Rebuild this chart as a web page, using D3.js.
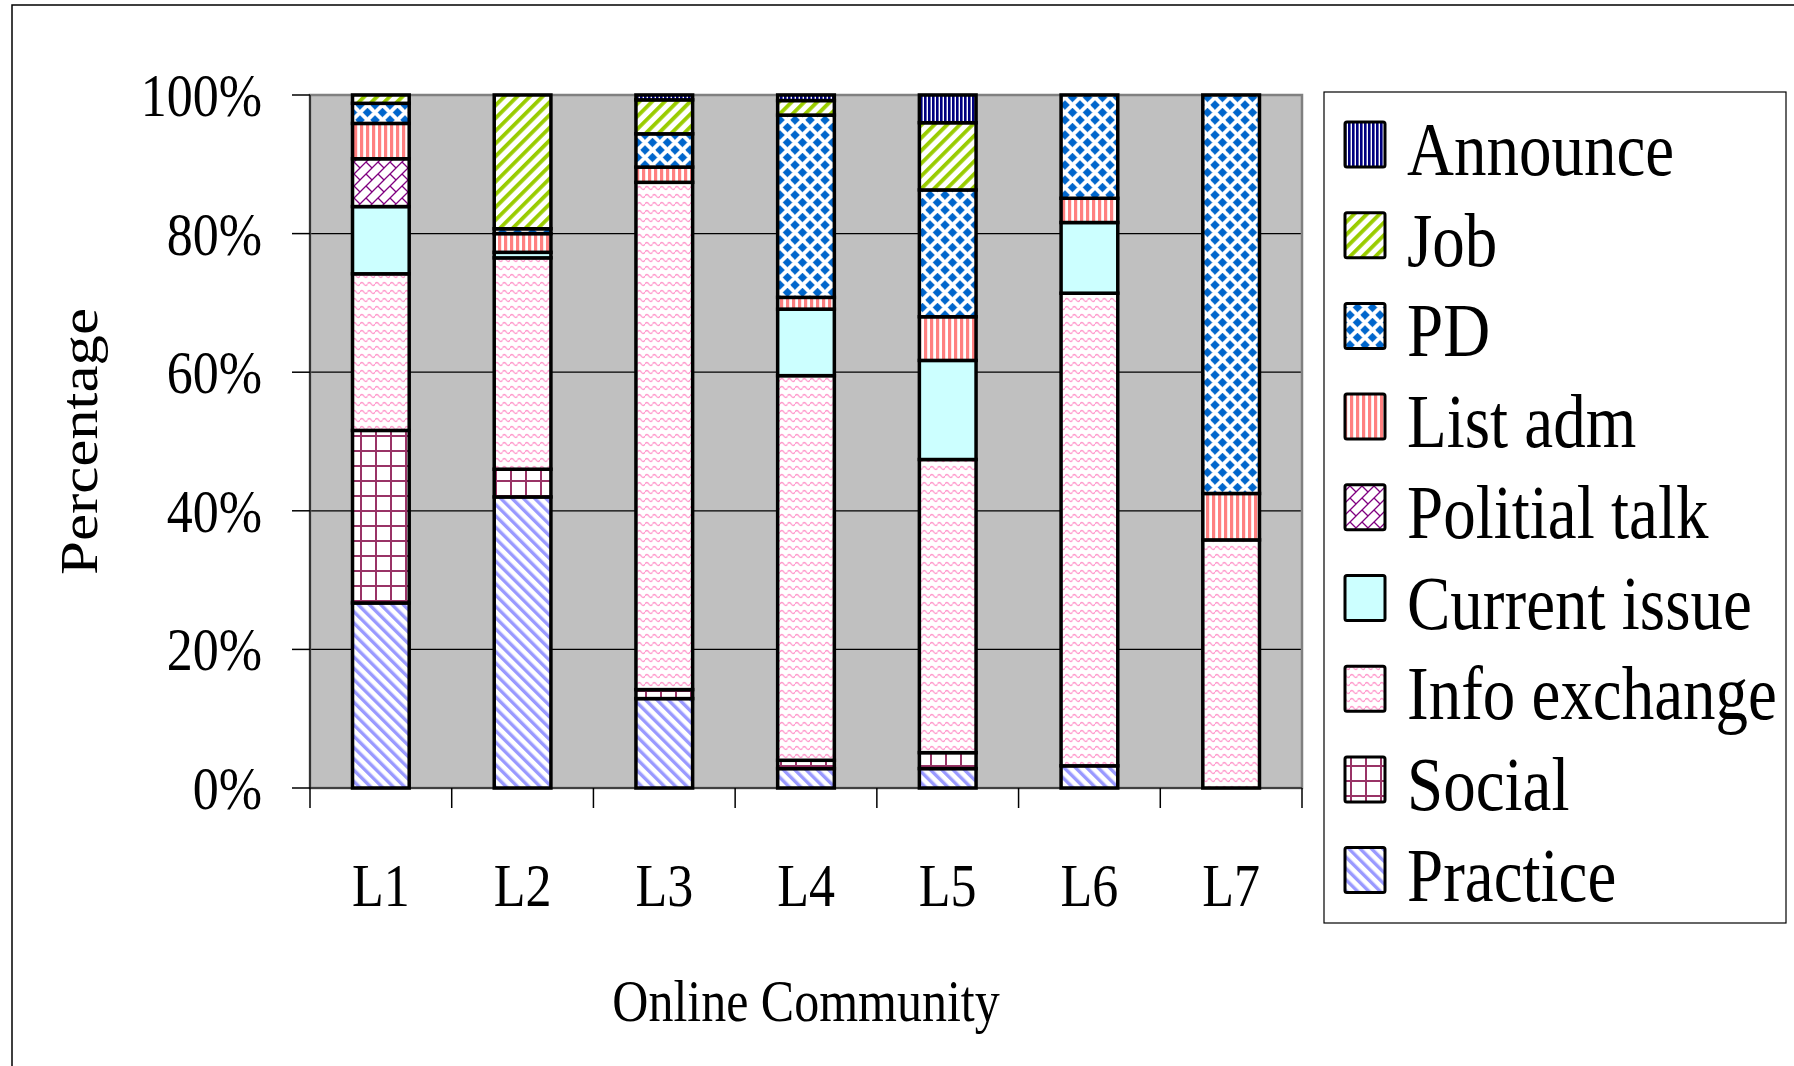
<!DOCTYPE html>
<html>
<head>
<meta charset="utf-8">
<script src="https://cdn.jsdelivr.net/npm/d3@7"></script>
<style>
  body { margin: 0; background: #fff; }
  text { font-family: "Liberation Serif", "Times New Roman", serif; fill: #000; }
</style>
</head>
<body>
<svg id="chart" width="1794" height="1066"></svg>
<script>
// communities on the x axis
const categories = ["L1", "L2", "L3", "L4", "L5", "L6", "L7"];
// stack order, bottom to top
const seriesNames = ["Practice", "Social", "Info exchange", "Current issue", "Politial talk", "List adm", "PD", "Job", "Announce"];

// share of messages (%) per community
const practice     = [26.7, 42.0, 12.9,  2.8,  2.8,  3.2,  0.0];
const social       = [24.9,  4.0,  1.3,  1.2,  2.3,  0.0,  0.0];
const infoExchange = [22.6, 30.5, 73.2, 55.5, 42.3, 68.2, 35.8];
const currentIssue = [ 9.7,  0.8,  0.0,  9.6, 14.3, 10.2,  0.0];
const politialTalk = [ 6.9,  0.0,  0.0,  0.0,  0.0,  0.0,  0.0];
const listAdm      = [ 5.1,  2.7,  2.2,  1.7,  6.3,  3.5,  6.7];
const pd           = [ 2.9,  0.7,  4.8, 26.3, 18.3, 14.9, 57.5];
const job          = [ 1.2, 19.3,  4.9,  2.1,  9.7,  0.0,  0.0];
const announce     = [ 0.0,  0.0,  0.7,  0.8,  4.0,  0.0,  0.0];

const yTicks = [0, 0.2, 0.4, 0.6, 0.8, 1.0];

const seriesValues = [practice, social, infoExchange, currentIssue, politialTalk, listAdm, pd, job, announce];
const rows = categories.map((c, i) => {
  const r = { cat: c };
  seriesNames.forEach((s, j) => r[s] = seriesValues[j][i]);
  return r;
});

const svg = d3.select("#chart");
const SY = 1.17; // the original text is stretched vertically

// ---- fill patterns ----
const defs = svg.append("defs");
function pat(id, w, h, rot) {
  const p = defs.append("pattern").attr("id", id)
    .attr("patternUnits", "userSpaceOnUse").attr("width", w).attr("height", h);
  if (rot) p.attr("patternTransform", "rotate(" + rot + ")");
  p.append("rect").attr("width", w).attr("height", h).attr("fill", "#fff");
  return p;
}
let p;
p = pat("p-announce", 4, 4);
p.append("rect").attr("width", 2.6).attr("height", 4).attr("fill", "#000080");
p = pat("p-job", 9, 9, 45);
p.append("rect").attr("width", 3.8).attr("height", 9).attr("fill", "#99CC00");
p = pat("p-pd", 15, 15);
[[0, 0], [15, 0], [0, 15], [15, 15], [7.5, 7.5]].forEach(([cx, cy]) => {
  const r = 4.3;
  p.append("path").attr("d", `M${cx},${cy - r}L${cx + r},${cy}L${cx},${cy + r}L${cx - r},${cy}Z`)
    .attr("fill", "#0066CC").attr("stroke", "#0066CC").attr("stroke-width", 1).attr("stroke-linejoin", "round");
});
p = pat("p-list", 6, 6);
p.append("rect").attr("width", 3.2).attr("height", 6).attr("fill", "#FF8080");
p = pat("p-polit", 12, 12);
p.append("path").attr("d", "M0,12L12,0M-6,6L6,-6M6,18L18,6M6,6L12,12M0,0L-6,-6M12,12L18,18")
  .attr("stroke", "#800080").attr("stroke-width", 1.3).attr("fill", "none");
p = pat("p-info", 7.5, 8);
p.append("path").attr("d", "M0,4 Q1.875,1 3.75,4 T7.5,4")
  .attr("stroke", "#FF99CC").attr("stroke-width", 1.4).attr("fill", "none");
p = pat("p-social", 15, 15);
p.append("path").attr("d", "M1,0V15M0,1H15").attr("stroke", "#993366").attr("stroke-width", 2);
p = pat("p-practice", 8, 8, -45);
p.append("rect").attr("width", 3.4).attr("height", 8).attr("fill", "#9999FF");

const fills = {
  "Practice": "url(#p-practice)", "Social": "url(#p-social)", "Info exchange": "url(#p-info)",
  "Current issue": "#CCFFFF", "Politial talk": "url(#p-polit)", "List adm": "url(#p-list)",
  "PD": "url(#p-pd)", "Job": "url(#p-job)", "Announce": "url(#p-announce)"
};

// ---- frame ----
svg.append("rect").attr("x", 12).attr("y", 5).attr("width", 1800).attr("height", 1100)
  .attr("fill", "#fff").attr("stroke", "#000").attr("stroke-width", 1.5);

const plotL = 310, plotR = 1302, plotT = 95, plotB = 788;
const x = d3.scaleBand().domain(categories).range([plotL, plotR]).paddingInner(0.6).paddingOuter(0.3);
const y = d3.scaleLinear().domain([0, 1]).range([plotB, plotT]);

svg.append("rect").attr("x", plotL).attr("y", plotT).attr("width", plotR - plotL).attr("height", plotB - plotT)
  .attr("fill", "#C0C0C0");

// gridlines
svg.append("g").selectAll("line").data(yTicks.filter(t => t > 0 && t < 1)).join("line")
  .attr("x1", plotL).attr("x2", plotR).attr("y1", d => y(d)).attr("y2", d => y(d))
  .attr("stroke", "#000").attr("stroke-width", 1.2);

// plot area border
svg.append("rect").attr("x", plotL).attr("y", plotT).attr("width", plotR - plotL).attr("height", plotB - plotT)
  .attr("fill", "none").attr("stroke", "#808080").attr("stroke-width", 2.5);

// ---- bars ----
const stack = d3.stack().keys(seriesNames).offset(d3.stackOffsetExpand);
const layers = stack(rows);
svg.append("g").selectAll("g").data(layers).join("g")
    .attr("fill", d => fills[d.key])
  .selectAll("rect").data(d => d.filter(s => s[1] - s[0] > 1e-6)).join("rect")
    .attr("x", d => x(d.data.cat))
    .attr("width", x.bandwidth())
    .attr("y", d => y(d[1]))
    .attr("height", d => y(d[0]) - y(d[1]))
    .attr("stroke", "#000").attr("stroke-width", 3.5);

// ---- axes ----
function label(g, txt, tx, ty, size, anchor, rot) {
  return g.append("text")
    .attr("transform", `translate(${tx},${ty}) scale(1,${SY})` + (rot ? ` rotate(${rot})` : ""))
    .attr("text-anchor", anchor).attr("font-size", size).text(txt);
}

const yAxis = svg.append("g");
yAxis.append("line").attr("x1", plotL).attr("x2", plotL).attr("y1", plotT).attr("y2", plotB)
  .attr("stroke", "#000").attr("stroke-width", 1.2);
yTicks.forEach(t => {
  yAxis.append("line").attr("x1", plotL - 18).attr("x2", plotL).attr("y1", y(t)).attr("y2", y(t))
    .attr("stroke", "#000").attr("stroke-width", 1.5);
  label(yAxis, d3.format(".0%")(t), 262, y(t) + 21, 52, "end");
});

const xAxis = svg.append("g");
xAxis.append("line").attr("x1", plotL).attr("x2", plotR).attr("y1", plotB).attr("y2", plotB)
  .attr("stroke", "#000").attr("stroke-width", 1.2);
const step = x.step();
const bounds = categories.map(c => x(c) + x.bandwidth() / 2 - step / 2)
  .concat([x(categories[categories.length - 1]) + x.bandwidth() / 2 + step / 2]);
xAxis.selectAll("line.tick").data(bounds).join("line").attr("class", "tick")
  .attr("x1", d => d).attr("x2", d => d).attr("y1", plotB).attr("y2", plotB + 20)
  .attr("stroke", "#000").attr("stroke-width", 1.5);
categories.forEach(c => label(xAxis, c, x(c) + x.bandwidth() / 2, 906, 52, "middle"));

label(svg, "Online Community", (plotL + plotR) / 2, 1021, 50, "middle");
label(svg, "Percentage", 97, (plotT + plotB) / 2, 52, "middle", -90);

// ---- legend ----
const legend = svg.append("g");
legend.append("rect").attr("x", 1324).attr("y", 92).attr("width", 462).attr("height", 831)
  .attr("fill", "#fff").attr("stroke", "#000").attr("stroke-width", 1.2);
const legendOrder = seriesNames.slice().reverse();
legendOrder.forEach((s, i) => {
  const ly = 122 + i * 90.7;
  legend.append("rect").attr("x", 1345).attr("y", ly).attr("width", 40).attr("height", 45)
    .attr("rx", 2).attr("fill", fills[s]).attr("stroke", "#000").attr("stroke-width", 3);
  label(legend, s, 1407, ly + 53, 65, "start");
});
</script>
</body>
</html>
